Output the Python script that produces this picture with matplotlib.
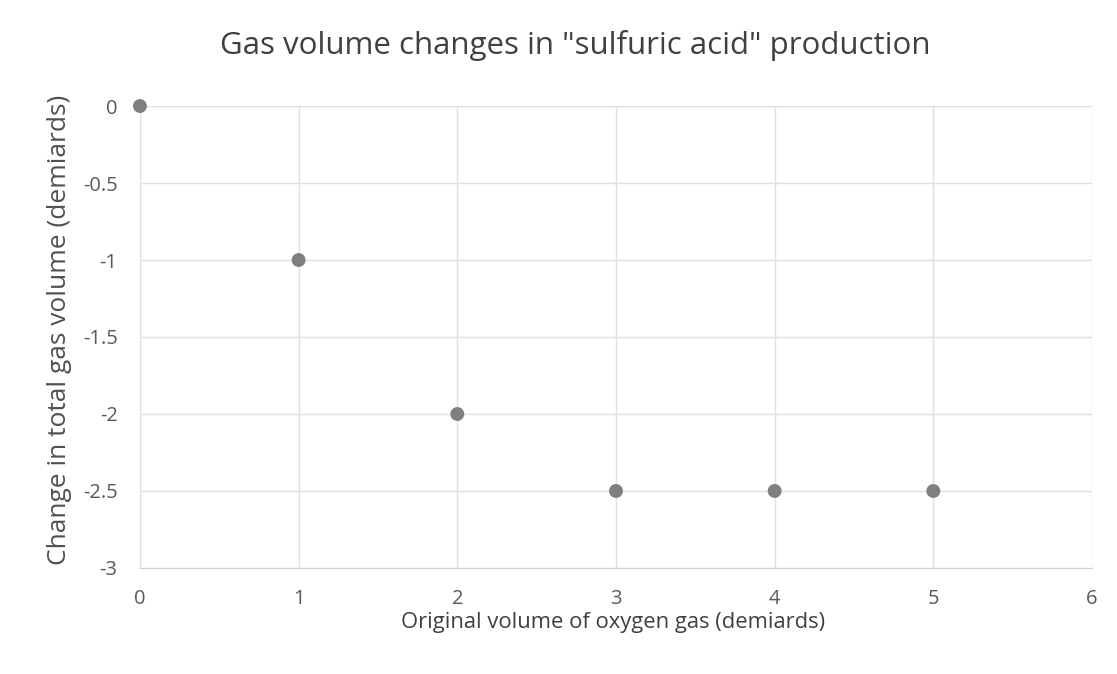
import matplotlib
matplotlib.use("Agg")
import matplotlib.pyplot as plt

x_vals = [0, 1, 2, 3, 4, 5]
y_vals = [0, -1, -2, -2.5, -2.5, -2.5]
x_ticks = [0, 1, 2, 3, 4, 5, 6]
y_ticks = [0, -0.5, -1, -1.5, -2, -2.5, -3]
y_tick_labels = ["0", "-0.5", "-1", "-1.5", "-2", "-2.5", "-3"]

plt.rcParams['font.family'] = ['Open Sans', 'DejaVu Sans']

fig = plt.figure(figsize=(11.17, 6.74), dpi=100)
ax = fig.add_axes([0.1253, 0.1573, 0.8523, 0.6854])

ax.scatter(x_vals, y_vals, s=100, color='#7f7f7f', zorder=3, clip_on=False, edgecolors='none')

ax.set_xlim(0, 6)
ax.set_ylim(-3, 0)
ax.set_xticks(x_ticks)
ax.set_xticklabels([str(t) for t in x_ticks])
ax.set_yticks(y_ticks)
ax.set_yticklabels(y_tick_labels)
ax.grid(True, color='#e0e0e0', linewidth=1)
ax.set_axisbelow(True)
for s in ax.spines.values():
    s.set_visible(False)
ax.spines['bottom'].set_visible(True)
ax.spines['bottom'].set_color('#cfcfcf')
ax.spines['left'].set_visible(True)
ax.spines['left'].set_color('#e0e0e0')
ax.tick_params(length=0, labelsize=14.5, colors='#595959')
ax.tick_params(axis='x', pad=15)
ax.tick_params(axis='y', pad=16)

fig.text(0.5148, 0.933, 'Gas volume changes in "sulfuric acid" production',
         ha='center', va='center', fontsize=22.5, color='#404040')
fig.text(0.549, 0.077, 'Original volume of oxygen gas (demiards)',
         ha='center', va='center', fontsize=15.8, color='#404040')
fig.text(0.053, 0.51, 'Change in total gas volume (demiards)', rotation=90,
         ha='center', va='center', fontsize=19, color='#505050')

fig.savefig('out.png', dpi=100)
